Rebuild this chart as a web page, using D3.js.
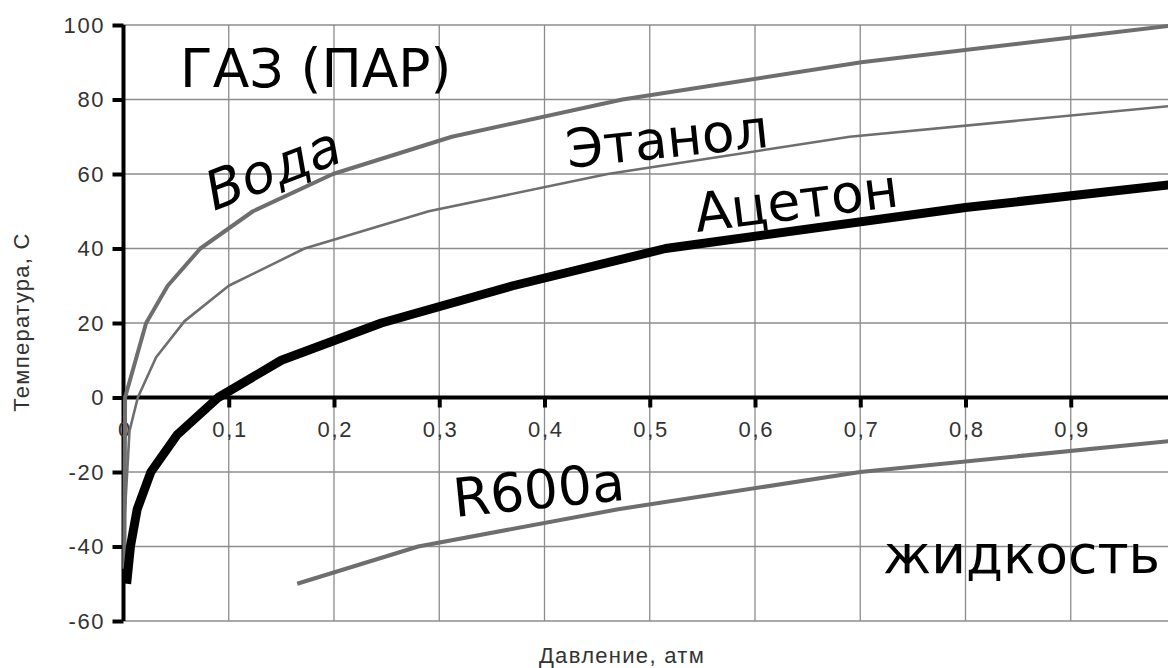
<!DOCTYPE html>
<html>
<head>
<meta charset="utf-8">
<script src="https://cdn.jsdelivr.net/npm/d3@7"></script>
<style>
  html, body { margin: 0; padding: 0; background: #fff; }
  svg { display: block; }
</style>
</head>
<body>
<svg id="chart" width="1168" height="668"></svg>
<script>
// ---- data (pressure in atm, temperature in °C) ----
const xTicks = [0, 0.1, 0.2, 0.3, 0.4, 0.5, 0.6, 0.7, 0.8, 0.9, 1.0];
const yTicks = [-60, -40, -20, 0, 20, 40, 60, 80, 100];

const waterP   = [0.0008, 0.0015, 0.0215, 0.042, 0.073, 0.123, 0.199, 0.312, 0.474, 0.701, 1.0];
const waterT   = [-46, 0, 20, 30, 40, 50, 60, 70, 80, 90, 100];

const ethanolP = [0.0013, 0.0057, 0.0136, 0.031, 0.058, 0.10, 0.172, 0.29, 0.46, 0.69, 1.0];
const ethanolT = [-31, -9, 0, 10.8, 20.5, 30, 40, 50, 60, 70, 78.4];

const acetoneP = [0.003, 0.0066, 0.013, 0.026, 0.051, 0.09, 0.15, 0.245, 0.37, 0.515, 0.8, 1.0];
const acetoneT = [-50, -40, -30, -20, -10, 0, 10, 20, 30, 40, 51, 57.3];

const r600aP   = [0.165, 0.28, 0.47, 0.7, 1.0];
const r600aT   = [-50, -40, -30, -20, -11.5];

const xTitle = "Давление, атм";
const yTitle = "Температура, С";
const labelGas = "ГАЗ (ПАР)";
const labelLiquid = "жидкость";
const labelWater = "Вода";
const labelEthanol = "Этанол";
const labelAcetone = "Ацетон";
const labelR600a = "R600a";

// ---- chart ----
const svg = d3.select("#chart");
const W = 1168, H = 668;
svg.append("rect").attr("width", W).attr("height", H).attr("fill", "#fff");

const x = d3.scaleLinear().domain([0, 1]).range([123.5, 1176]);
const y = d3.scaleLinear().domain([-60, 100]).range([621, 25]);

const gridColor = "#8c8c8c";
const lineGray = "#6e6e6e";
const textGray = "#333";

// grid
const grid = svg.append("g");
grid.selectAll("line.v").data(xTicks.filter(d => d > 0)).join("line")
  .attr("x1", d => x(d)).attr("x2", d => x(d))
  .attr("y1", y(100)).attr("y2", y(-60))
  .attr("stroke", gridColor).attr("stroke-width", 1.3);
grid.selectAll("line.h").data(yTicks).join("line")
  .attr("x1", x(0)).attr("x2", W)
  .attr("y1", d => y(d)).attr("y2", d => y(d))
  .attr("stroke", gridColor).attr("stroke-width", 1.3);

// y axis
const yAxis = d3.axisLeft(y).tickValues(yTicks).tickSize(11).tickPadding(9)
  .tickFormat(d => String(d));
const gy = svg.append("g").attr("transform", `translate(${x(0)},0)`).call(yAxis);
gy.select(".domain").attr("stroke", "#000").attr("stroke-width", 4)
  .attr("d", `M0,${y(100)}V${y(-60)}`);
gy.selectAll(".tick line").attr("stroke", "#000").attr("stroke-width", 4);
gy.selectAll(".tick text")
  .attr("font-family", "'Liberation Sans', Arial, sans-serif")
  .attr("font-size", 22).attr("fill", textGray)
  .attr("letter-spacing", "1.6px").attr("dx", "1.6");

// x axis at T = 0
const xAxis = d3.axisBottom(x).tickValues(xTicks.filter(d => d < 1)).tickSize(10).tickPadding(14)
  .tickFormat(d => d === 0 ? "0" : d3.format(".1f")(d).replace(".", ","));
const gx = svg.append("g").attr("transform", `translate(0,${y(0)})`).call(xAxis);
gx.select(".domain").attr("stroke", "#000").attr("stroke-width", 4)
  .attr("d", `M${x(0)},0H${W}`);
gx.selectAll(".tick line").attr("stroke", "#000").attr("stroke-width", 4);
gx.selectAll(".tick text")
  .attr("font-family", "'Liberation Sans', Arial, sans-serif")
  .attr("font-size", 22).attr("fill", textGray)
  .attr("letter-spacing", "1.8px").attr("dx", "0.9");

// axis titles
svg.append("text").text(xTitle)
  .attr("x", 622).attr("y", 663).attr("text-anchor", "middle")
  .attr("font-family", "'Liberation Sans', Arial, sans-serif")
  .attr("font-size", 22).attr("letter-spacing", "1.3px").attr("fill", textGray);
svg.append("text").text(yTitle)
  .attr("transform", "translate(29,322) rotate(-90)").attr("text-anchor", "middle")
  .attr("font-family", "'Liberation Sans', Arial, sans-serif")
  .attr("font-size", 22).attr("letter-spacing", "1.3px").attr("fill", textGray);

// curves
const line = d3.line().x(d => x(d[0])).y(d => y(d[1]));
function series(P, T) { return P.map((p, i) => [p, T[i]]); }

svg.append("path").datum(series(ethanolP, ethanolT)).attr("d", line)
  .attr("fill", "none").attr("stroke", lineGray).attr("stroke-width", 2.6)
  .attr("stroke-linejoin", "round");
svg.append("path").datum(series(waterP, waterT)).attr("d", line)
  .attr("fill", "none").attr("stroke", lineGray).attr("stroke-width", 4)
  .attr("stroke-linejoin", "round");
svg.append("path").datum(series(r600aP, r600aT)).attr("d", line)
  .attr("fill", "none").attr("stroke", lineGray).attr("stroke-width", 4)
  .attr("stroke-linejoin", "round");
svg.append("path").datum(series(acetoneP, acetoneT)).attr("d", line)
  .attr("fill", "none").attr("stroke", "#000").attr("stroke-width", 9)
  .attr("stroke-linejoin", "round");

// annotations
const big = "'DejaVu Sans', Verdana, sans-serif";
function label(txt, tx, ty, rot, italic, size) {
  svg.append("text").text(txt)
    .attr("transform", `translate(${tx},${ty}) rotate(${rot})`)
    .attr("font-family", big).attr("font-size", size)
    .attr("font-style", italic ? "oblique" : "normal")
    .attr("fill", "#000");
}
label(labelGas, 180, 87, 0, false, 53.5);
label(labelWater, 214, 211, -21, true, 54);
label(labelEthanol, 568, 168, -6, false, 53.5);
label(labelAcetone, 697, 232, -7.3, false, 53.5);
label(labelR600a, 455, 517, -5.8, false, 53.5);
label(labelLiquid, 883, 573, 0, false, 53.5);
</script>
</body>
</html>
